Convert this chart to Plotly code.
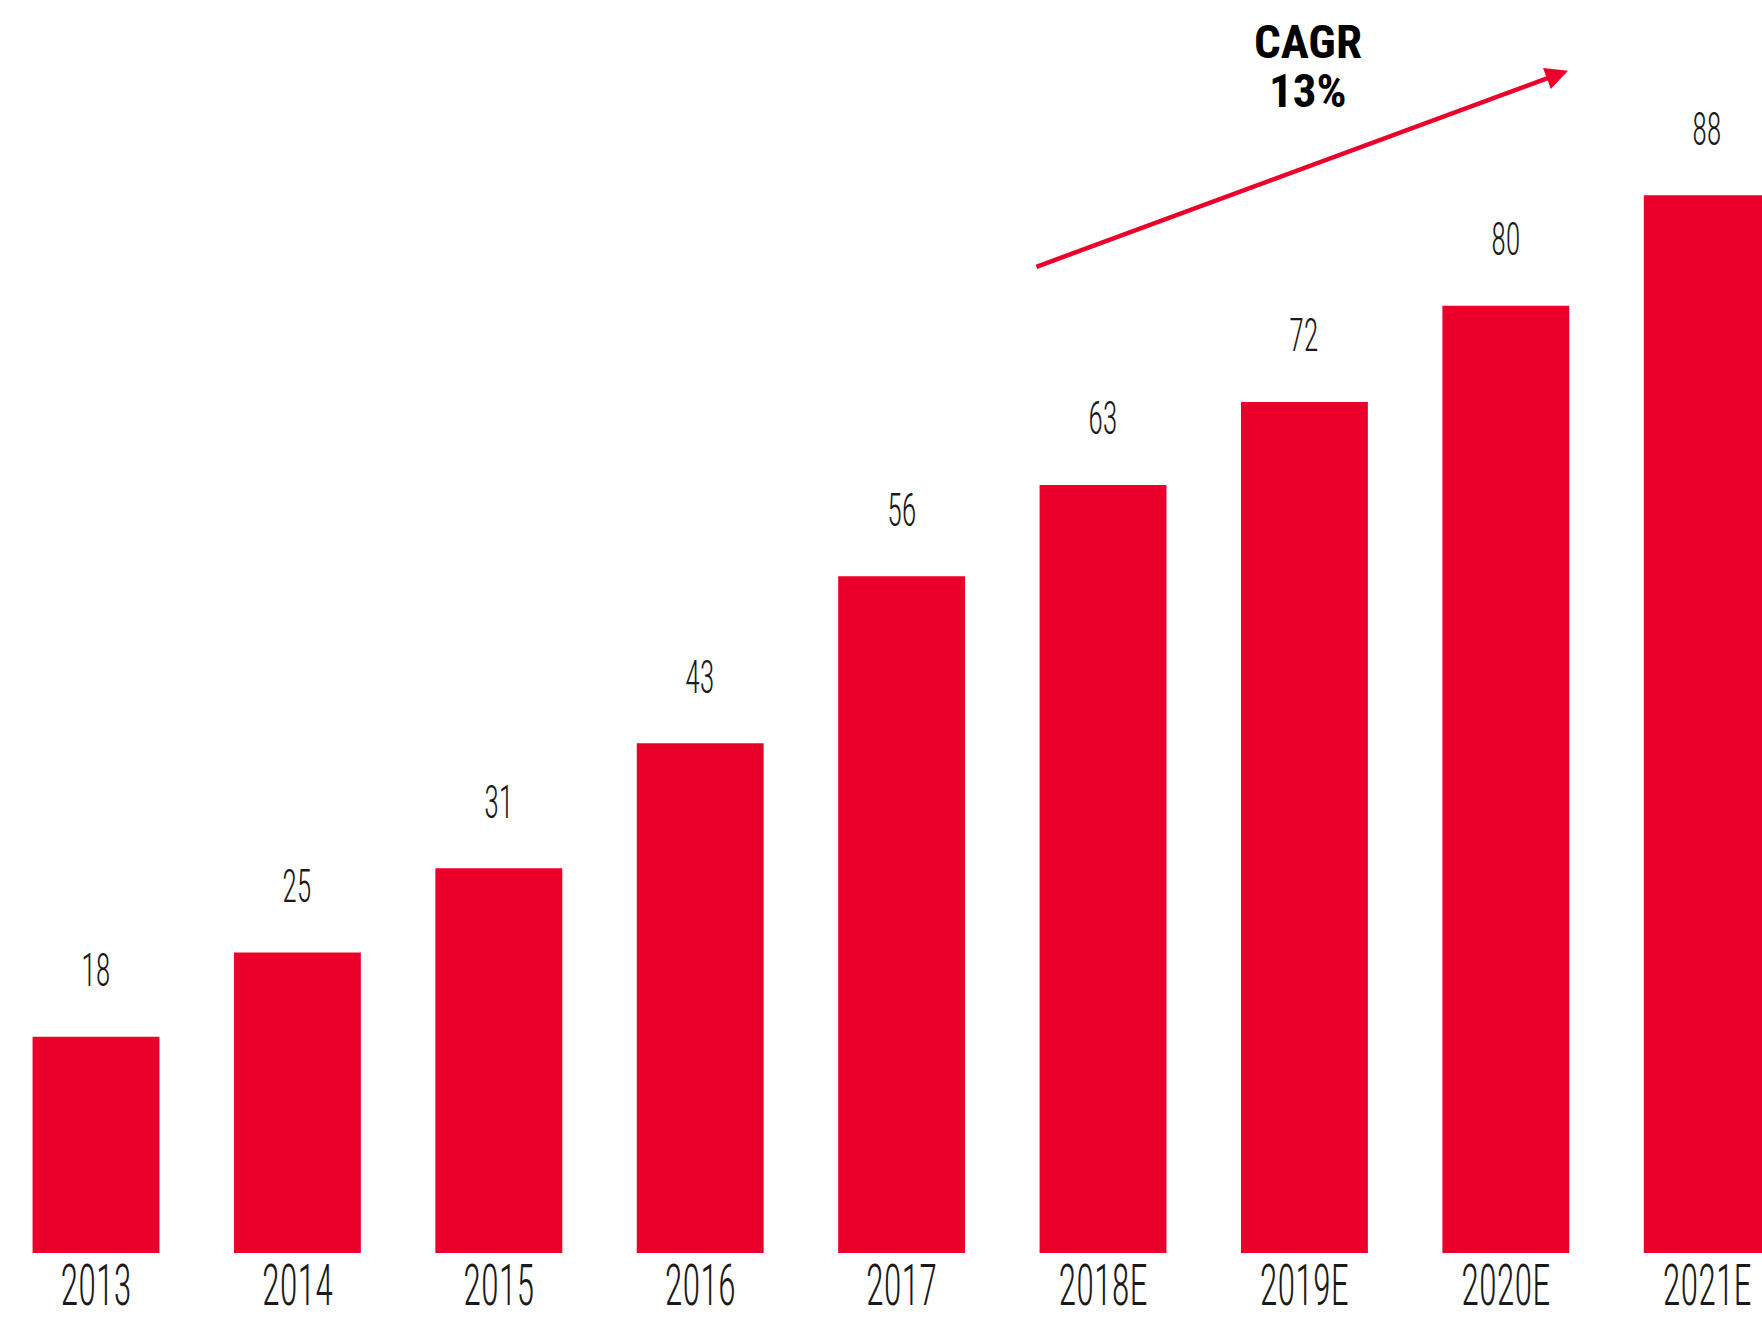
import plotly.graph_objects as go

# ---- data ----
years = ["2013", "2014", "2015", "2016", "2017", "2018E", "2019E", "2020E", "2021E"]
bar_values = [18, 25, 32, 42.4, 56.3, 63.9, 70.8, 78.8, 88]
value_labels = ["18", "25", "31", "43", "56", "63", "72", "80", "88"]
cagr_title = "CAGR"
cagr_value = "13%"

RED = "#EB002C"
LABEL_FONT = "Roboto Condensed, Liberation Sans Narrow, DejaVu Sans Condensed, Roboto, sans-serif"

fig = go.Figure()
fig.add_trace(go.Bar(
    x=years, y=bar_values,
    marker=dict(color=RED, line=dict(width=0)),
    hoverinfo="skip",
))

for i, (v, lab) in enumerate(zip(bar_values, value_labels)):
    fig.add_annotation(
        x=i, y=v, text=lab, showarrow=False,
        xref="x", yref="y", yshift=67, yanchor="middle", xanchor="center",
        font=dict(family=LABEL_FONT, size=47, color="#1a1a1a", weight=300),
    )

# CAGR arrow
fig.add_annotation(
    x=7.309, y=98.36, ax=4.662, ay=82.0,
    xref="x", yref="y", axref="x", ayref="y",
    text="", showarrow=True, arrowhead=2, arrowsize=1.0,
    arrowwidth=4.5, arrowcolor=RED, standoff=0, startstandoff=0,
)
fig.add_annotation(
    x=6.018, y=100.8, text="<b>" + cagr_title + "</b>", showarrow=False,
    xref="x", yref="y", yanchor="middle", height=44, valign="middle",
    font=dict(family=LABEL_FONT, size=47, color="#000000"),
)
fig.add_annotation(
    x=6.018, y=96.76, text="<b>" + cagr_value + "</b>", showarrow=False,
    xref="x", yref="y", yanchor="middle", height=44, valign="middle",
    font=dict(family=LABEL_FONT, size=47, color="#000000"),
)

fig.update_layout(
    width=1762, height=1317, autosize=False,
    margin=dict(l=0, r=0, t=0, b=64, pad=0, autoexpand=False),
    paper_bgcolor="white", plot_bgcolor="white",
    showlegend=False, bargap=0.37,
    xaxis=dict(
        type="category", range=[-0.4767, 8.272], automargin=False,
        showgrid=False, zeroline=False, showline=False, ticks="",
        ticklabelstandoff=-6,
        tickfont=dict(family=LABEL_FONT, size=57, color="#1a1a1a", weight=300),
        fixedrange=True,
    ),
    yaxis=dict(
        range=[0, 104.24], visible=False, showgrid=False, zeroline=False,
        fixedrange=True, automargin=False,
    ),
)

post = """
document.body.style.margin = '0';
document.body.style.overflow = 'hidden';
var gd = document.getElementById('{plot_id}');
function squeezeText() {
  var els = gd.querySelectorAll('text');
  els.forEach(function (el) {
    if (el.style.fontWeight === '300' && !el.getAttribute('data-sq')) {
      var w = el.getComputedTextLength();
      if (w > 0) {
        el.setAttribute('textLength', (w * 0.64).toFixed(1));
        el.setAttribute('lengthAdjust', 'spacingAndGlyphs');
        el.setAttribute('data-sq', '1');
      }
    }
  });
}
squeezeText();
if (document.fonts && document.fonts.ready) { document.fonts.ready.then(squeezeText); }
"""

fig.write_html("out.html", post_script=post, config={"displayModeBar": False, "staticPlot": True})
